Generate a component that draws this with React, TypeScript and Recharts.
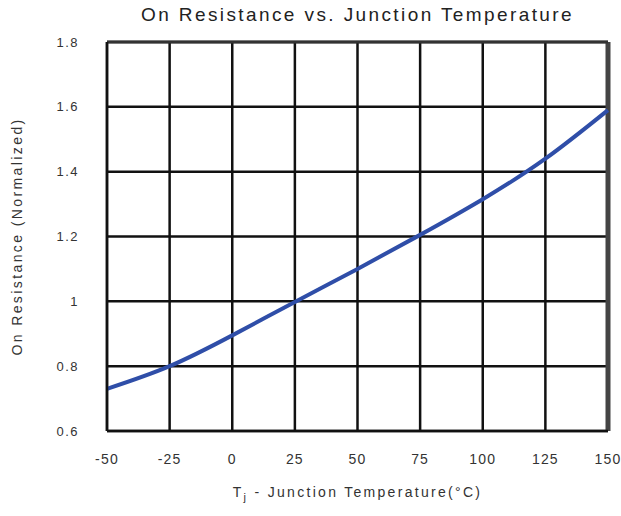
import React from "react";
import { LineChart, Line, XAxis, YAxis, CartesianGrid, ReferenceLine, Label } from "recharts";

const temperatures = [-50, -25, 0, 25, 50, 75, 100, 125, 150];
const resistance = [0.73, 0.8, 0.895, 0.998, 1.1, 1.205, 1.315, 1.44, 1.59];
const xTicks = [-50, -25, 0, 25, 50, 75, 100, 125, 150];
const yTicks = [0.6, 0.8, 1.0, 1.2, 1.4, 1.6, 1.8];

const data = temperatures.map((t, i) => ({ t, r: resistance[i] }));

const FONT = "'Liberation Sans', Arial, sans-serif";

const XLabel = (props: any) => {
  const vb = props.viewBox || {};
  const cx = vb.x + vb.width / 2;
  return (
    <text x={cx} y={497} textAnchor="middle" fontFamily={FONT} fontSize={14} fill="#333" letterSpacing={2.3}>
      <tspan>T</tspan>
      <tspan fontSize={11} dy={4}>j</tspan>
      <tspan dy={-4}>{" -  Junction Temperature(°C)"}</tspan>
    </text>
  );
};

const YLabel = (props: any) => {
  const vb = props.viewBox || {};
  const cy = vb.y + vb.height / 2;
  return (
    <text
      x={22}
      y={cy}
      transform={`rotate(-90 22 ${cy})`}
      textAnchor="middle"
      fontFamily={FONT}
      fontSize={14}
      fill="#333"
      letterSpacing={2.4}
    >
      On Resistance (Normalized)
    </text>
  );
};

export default function App() {
  return (
    <div style={{ position: "absolute", left: 0, top: 0, width: 621, height: 516, background: "#fff" }}>
      <div
        style={{
          position: "absolute",
          left: 107,
          width: 501,
          top: 4,
          textAlign: "center",
          fontFamily: FONT,
          fontSize: 19,
          letterSpacing: 2.4,
          color: "#222",
          whiteSpace: "nowrap",
        }}
      >
        On Resistance vs. Junction Temperature
      </div>
      <LineChart width={621} height={516} data={data} margin={{ top: 42, right: 13, left: 0, bottom: 0 }}>
        <CartesianGrid stroke="#111" strokeWidth={2.5} strokeDasharray="" />
        <XAxis
          dataKey="t"
          type="number"
          domain={[-50, 150]}
          ticks={xTicks}
          axisLine={{ stroke: "#111", strokeWidth: 2.5 }}
          tickLine={false}
          height={85}
          tick={{ fontFamily: FONT, fontSize: 14, fill: "#333", letterSpacing: 1.2 }}
          tickMargin={17}
          interval={0}
        >
          <Label content={<XLabel />} />
        </XAxis>
        <YAxis
          type="number"
          domain={[0.6, 1.8]}
          ticks={yTicks}
          width={107}
          axisLine={{ stroke: "#111", strokeWidth: 2.5 }}
          tickLine={false}
          tickMargin={22}
          tick={{ fontFamily: FONT, fontSize: 13, fill: "#333", letterSpacing: 1.5 }}
          tickFormatter={(v: number) => String(Number(v.toFixed(1)))}
          interval={0}
        >
          <Label content={<YLabel />} />
        </YAxis>
        <ReferenceLine x={150} stroke="#444" strokeWidth={5} />
        <ReferenceLine y={1.8} stroke="#333" strokeWidth={3} />
        <Line
          type="natural"
          dataKey="r"
          stroke="#2f4ea8"
          strokeWidth={4}
          dot={false}
          isAnimationActive={false}
        />
      </LineChart>
    </div>
  );
}
